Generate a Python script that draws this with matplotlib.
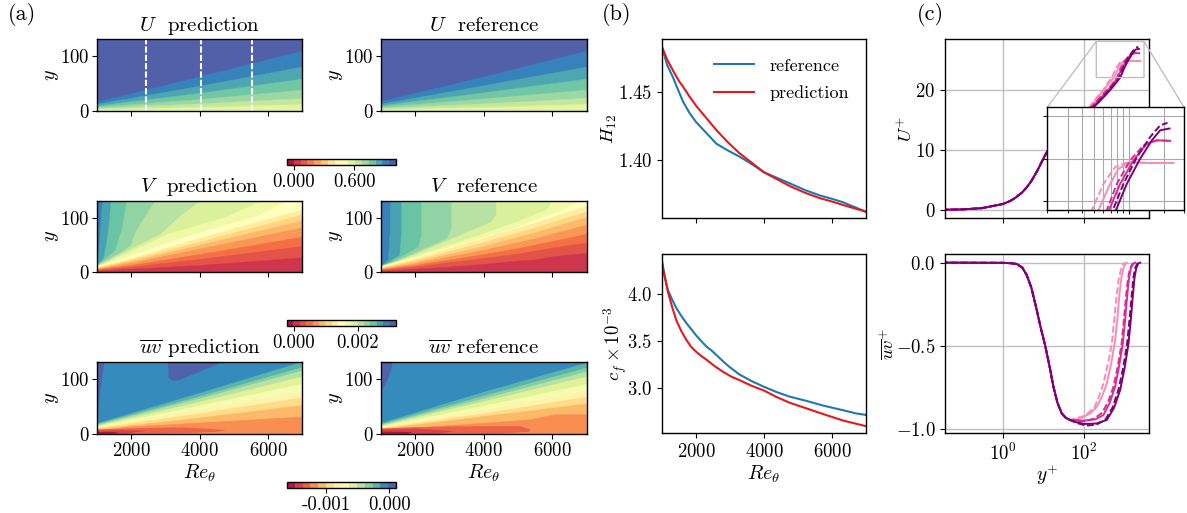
import matplotlib
matplotlib.use("Agg")
import matplotlib.pyplot as plt
from matplotlib.colors import BoundaryNorm, ListedColormap
from matplotlib.cm import ScalarMappable
from matplotlib.ticker import NullFormatter, NullLocator
import numpy as np

plt.rcParams['font.family'] = ['cmr10', 'DejaVu Serif']
plt.rcParams['mathtext.fontset'] = 'cm'
plt.rcParams['axes.formatter.use_mathtext'] = True
plt.rcParams['axes.unicode_minus'] = True
plt.rcParams['font.size'] = 13.5
plt.rcParams['axes.linewidth'] = 1.0

W, H = 1187, 513
RE_MIN, RE_MAX, Y_MAX = 1000, 7000, 131

# ---- panel (a): contour edges, (Re, y) for each level
re_abc = [1000, 4000, 7000]
u_pred_edges = [
    (14, re_abc, [16, 62, 109]), (13, re_abc, [12, 45, 80]), (12, re_abc, [9, 32, 58]),
    (11, re_abc, [6.5, 21, 38]), (10, re_abc, [4.5, 13, 22.5]), (9, re_abc, [2.5, 6.5, 11.6]),
]
u_ref_edges = [
    (14, re_abc, [17, 62, 109]), (13, re_abc, [12.5, 46, 80]), (12, re_abc, [9.5, 33, 58]),
    (11, re_abc, [6.5, 22, 38]), (10, re_abc, [4.5, 13, 23]), (9, re_abc, [2.5, 6.5, 12]),
]

re_v = [1000, 2000, 4000, 7000]
v_pred_edges = [
    (14, [1000, 1020, 1098, 1167], [13, 16, 66, 131]),
    (13, [1000, 1050, 1196, 1274, 1343, 1421], [12.5, 15, 23, 48, 78, 131]),
    (12, [1000, 1098, 1539, 1735, 1882], [12, 17, 39, 78, 131]),
    (11, [1000, 1098, 1686, 2000, 2127, 2421, 2715], [11.5, 15, 35, 49, 72, 103, 131]),
    (10, [1000, 1196, 1980, 2862, 3450, 4038], [11, 16, 42, 69, 103, 131]),
    (9, [1000, 1294, 3058, 4724, 5851], [10, 17, 69, 100, 131]),
    (8, [1000, 1392, 3744, 5704, 6586], [9, 17, 67, 103, 131]),
    (7, re_v, [8, 24, 62, 114]), (6, re_v, [7, 22, 55, 105]), (5, re_v, [6, 19, 49, 94]),
    (4, re_v, [5, 16, 42, 81]), (3, re_v, [4, 12, 32, 64]), (2, re_v, [3, 9, 23, 47]),
    (1, re_v, [1.5, 5, 12, 26]),
]
re_wavy = [1000, 2000, 3000, 4000, 5000, 6000, 7000]
v_ref_edges = [
    (14, [1000, 1039, 1216, 1274, 1274], [12, 13, 23, 78, 131]),
    (13, [1000, 1157, 1549, 1608, 1608], [11.5, 15, 31, 78, 131]),
    (12, [1000, 1304, 2088, 2186, 2186], [11, 18, 45, 66, 131]),
    (11, [1000, 1451, 2921, 3058, 3068], [10.5, 20, 61, 78, 131]),
    (10, [1000, 1647, 4195, 4361, 4371], [10, 23, 91, 103, 131]),
    (9, [1000, 1843, 3803, 5175, 5861, 6008], [9.5, 26, 66, 97, 115, 131]),
    (8, [1000, 2039, 4783, 6351, 6841], [9, 27, 78, 115, 131]),
    (7, [1000, 2000, 4000, 5500, 7000], [8, 24, 62, 90, 121]),
    (6, [1000, 2000, 4000, 5500, 7000], [7, 21, 54, 81, 110]),
    (5, [1000, 2000, 4000, 5500, 7000], [6, 18, 47, 72, 100]),
    (4, [1000, 2000, 4000, 5500, 7000], [5, 15, 40, 61, 86]),
    (3, re_wavy, [4, 12, 22, 32, 43, 56, 69]),
    (2, re_wavy, [3, 9, 17, 25, 33, 44, 53]),
    (1, [1000, 2000, 3000, 4000, 5000, 5500, 6000, 6500, 7000], [1.5, 5, 9, 14, 20, 22, 28, 31, 34]),
]

uv_pred_patches = [
    (13, [1000, 1225, 1098, 1020, 1000], [131, 131, 78, 29, 20]),
    (13, [3078, 3097, 3205, 3401, 3842, 4675], [131, 102, 97, 98, 109, 131]),
]
uv_ref_patches = [
    (13, [1000, 1353, 1255, 1108, 1000], [131, 131, 109, 87, 78]),
]
uv_pred_edges = [
    (11, re_abc, [19, 74, 131]), (10, re_abc, [17.5, 68, 121]), (9, re_abc, [16, 64, 115]),
    (8, re_abc, [14.5, 58, 104]), (7, re_abc, [13, 51, 91]), (6, re_abc, [11.5, 43, 76]),
    (5, re_abc, [10, 37, 66]), (4, re_abc, [8.5, 29, 52]),
    (3, re_v, [6, 13, 20, 31]),
]
uv_ref_edges = [
    (11, re_abc, [19.5, 76, 129]), (10, re_abc, [17.5, 69, 120]), (9, re_abc, [16, 64, 113]),
    (8, re_abc, [14.5, 59, 104]), (7, re_abc, [13, 51, 90]), (6, re_abc, [11.5, 43, 77]),
    (5, re_abc, [10, 37, 67]), (4, [1000, 4000, 5500, 7000], [8.5, 32, 43, 55]),
    (3, [1000, 4097, 5371, 6057, 7000], [7, 20, 26, 35, 35]),
]
uv_pred_wedges = [
    (2, [1000, 2421, 3548, 4773, 4528, 3744, 2764, 1000], [8, 11, 12, 7.3, 4, 2, 0, 0]),
    (1, [1000, 1700, 2470, 2000, 1800, 1000], [6.5, 7, 6, 2, 0, 0]),
    (0, [1000, 1637, 1500, 1000], [3.5, 3.6, 0, 0]),
]
uv_ref_wedges = [
    (2, [1000, 1843, 3313, 4293, 5077, 5371, 5322, 4293, 1000], [10, 12, 14, 14, 14, 8, 4, 0, 0]),
    (1, [1000, 2039, 3117, 2823, 2529, 1000], [8, 10, 5, 2, 0, 0]),
    (0, [1000, 1941, 1745, 1000], [4.5, 3.6, 0, 0]),
]
stations = [2450, 4030, 5540]

# ---- panel (b)
h12_re = [1000, 1150, 1320, 1500, 1618, 1800, 2000, 2300, 2600, 2940, 3280, 3640, 4000, 4375, 4750,
          5200, 5640, 6000, 6320, 6660, 7000]
h12_ref = [1.483, 1.470, 1.461, 1.450, 1.443, 1.435, 1.428, 1.420, 1.412, 1.407, 1.4025, 1.397, 1.391,
           1.387, 1.383, 1.378, 1.374, 1.3715, 1.369, 1.3655, 1.362]
h12_pred = [1.483, 1.474, 1.466, 1.458, 1.454, 1.447, 1.440, 1.431, 1.422, 1.413, 1.405, 1.398, 1.391,
            1.386, 1.381, 1.376, 1.372, 1.3695, 1.367, 1.3645, 1.362]

cf_re_ref = [1000, 1060, 1120, 1176, 1300, 1422, 1560, 1716, 1850, 2000, 2150, 2304, 2450, 2598, 2800,
             2990, 3284, 3640, 4000, 4363, 4755, 5245, 5735, 6324, 6716, 7000]
cf_ref = [4.345, 4.22, 4.12, 4.04, 3.94, 3.85, 3.77, 3.69, 3.63, 3.56, 3.50, 3.44, 3.40, 3.35, 3.28,
          3.22, 3.14, 3.07, 3.01, 2.955, 2.905, 2.86, 2.81, 2.76, 2.725, 2.71]
cf_re_pred = [1000, 1060, 1120, 1176, 1300, 1422, 1560, 1716, 1850, 2000, 2150, 2304, 2550, 2794, 3030,
              3284, 3640, 4000, 4375, 4755, 5245, 5735, 6324, 6660, 7000]
cf_pred = [4.345, 4.22, 4.12, 4.02, 3.86, 3.72, 3.61, 3.51, 3.44, 3.385, 3.34, 3.30, 3.23, 3.17, 3.12,
           3.08, 3.02, 2.97, 2.90, 2.84, 2.78, 2.72, 2.65, 2.62, 2.59]

# ---- panel (c)
colors_c = ['#f98cb6', '#d82b97', '#7a0177']
up_inner_y = [0.03, 0.1, 0.3, 1, 1.5, 2, 3, 4, 5, 7, 10, 12, 15, 20, 30, 50, 80, 120]
up_inner_u = [0.03, 0.1, 0.3, 1, 1.5, 2, 2.95, 3.9, 4.8, 6.5, 8.6, 9.6, 10.7, 12, 13.6, 14.8, 15.8, 16.5]
up_y = [
    [141, 200, 300, 400, 490, 610, 768, 968, 1400, 2437],
    [141, 200, 300, 450, 651, 794, 1033, 1346, 1752, 2250],
    [141, 200, 300, 450, 733, 906, 1180, 1536, 1873, 2163],
]
up_u = [
    [17.3, 18.6, 20, 21.3, 22.07, 23.54, 24.51, 24.77, 24.75, 24.75],
    [16.9, 18, 19.3, 20.6, 22, 23.54, 24.9, 25.78, 26.07, 26.04],
    [16.7, 17.6, 18.9, 20.2, 22, 23.54, 25.1, 26.27, 26.95, 27.09],
]
up_y_solid = [
    [141, 200, 300, 400, 552, 695, 820, 1033, 1500, 2437],
    [141, 200, 300, 450, 680, 848, 1104, 1438, 1752, 2282],
    [141, 200, 300, 450, 780, 968, 1260, 1586, 1873, 2250],
]
up_u_solid = [
    [17, 18.4, 19.8, 21, 22, 23.54, 24.41, 24.8, 24.75, 24.75],
    [16.8, 17.8, 19.1, 20.4, 22, 23.54, 24.9, 25.88, 26.07, 26.04],
    [16.6, 17.5, 18.7, 20, 22, 23.54, 25, 26.07, 26.66, 26.76],
]
uv_inner_y = [0.03, 1, 1.5, 2.2, 3, 3.84, 5, 6.8, 8.5, 10.9, 14, 17.5, 22, 28, 35, 45]
uv_inner_v = [0, -0.001, -0.003, -0.008, -0.03, -0.074, -0.15, -0.284, -0.39, -0.494, -0.62, -0.744,
              -0.84, -0.904, -0.93, -0.944]
uv_y_solid = [
    [70, 100, 150, 206, 280, 363, 470, 582, 670, 745, 830, 935, 1020, 1122],
    [60, 100, 190, 300, 430, 582, 730, 902, 1020, 1130, 1270, 1419, 1600, 1820],
    [60, 100, 200, 363, 550, 775, 1000, 1245, 1420, 1585, 1750, 1923, 2150, 2415],
]
uv_v_solid = [
    [-0.94, -0.924, -0.90, -0.864, -0.80, -0.724, -0.60, -0.464, -0.32, -0.184, -0.09, -0.034, -0.01, 0],
    [-0.945, -0.948, -0.94, -0.914, -0.84, -0.744, -0.62, -0.484, -0.35, -0.224, -0.10, -0.034, -0.008, 0],
    [-0.955, -0.968, -0.965, -0.944, -0.87, -0.764, -0.63, -0.484, -0.34, -0.204, -0.09, -0.034, -0.006, 0],
]
uv_y_dash = [
    [60, 100, 135, 178, 235, 300, 385, 482, 550, 617, 700, 803, 900, 1000],
    [60, 100, 180, 280, 400, 530, 680, 840, 950, 1060, 1200, 1350, 1550, 1780],
    [60, 110, 200, 330, 500, 700, 920, 1150, 1320, 1480, 1640, 1800, 2050, 2300],
]
uv_v_dash = [
    [-0.935, -0.92, -0.895, -0.87, -0.80, -0.724, -0.61, -0.484, -0.35, -0.224, -0.11, -0.044, -0.012, 0],
    [-0.95, -0.952, -0.935, -0.90, -0.83, -0.744, -0.62, -0.484, -0.35, -0.224, -0.10, -0.034, -0.008, 0],
    [-0.958, -0.978, -0.972, -0.944, -0.87, -0.764, -0.63, -0.484, -0.34, -0.204, -0.09, -0.034, -0.006, 0],
]


def px_axes(fig, x0, x1, y0, y1):
    # pixel box (top-left origin) to figure axes
    return fig.add_axes([x0 / W, 1 - y1 / H, (x1 - x0) / W, (y1 - y0) / H])


def band_colors(n):
    cmap = plt.get_cmap('Spectral')
    return [cmap((i + 0.5) / n) for i in range(n)]


def draw_field(ax, n, base, edges, patches=(), wedges=()):
    cols = band_colors(n)
    ax.set_facecolor(cols[base])
    for idx, re, y in patches:
        ax.fill(re, y, color=cols[idx], lw=0)
    for idx, re, y in edges:
        xs = list(re) + [RE_MAX, RE_MAX, RE_MIN]
        ys = list(y) + [y[-1], 0, 0]
        ax.fill(xs, ys, color=cols[idx], lw=0.3)
    for idx, re, y in wedges:
        ax.fill(re, y, color=cols[idx], lw=0)
    ax.set_xlim(RE_MIN, RE_MAX)
    ax.set_ylim(0, Y_MAX)
    ax.set_xticks([2000, 4000, 6000])
    ax.set_yticks([0, 100])
    ax.tick_params(labelsize=13.5, pad=2)


def add_cbar(fig, y0, n, vmin, vmax, ticks, labels):
    cax = px_axes(fig, 287, 396, y0, y0 + 6)
    bounds = np.linspace(vmin, vmax, n + 1)
    sm = ScalarMappable(norm=BoundaryNorm(bounds, n), cmap=ListedColormap(band_colors(n)))
    cb = fig.colorbar(sm, cax=cax, orientation='horizontal', spacing='proportional')
    cb.set_ticks(ticks)
    cb.set_ticklabels(labels)
    cb.ax.minorticks_off()
    cb.ax.tick_params(labelsize=13.5, pad=2)
    cb.outline.set_linewidth(1.0)


fig = plt.figure(figsize=(W / 100, H / 100), dpi=100)

cols_x = [(96.8, 302.3), (381, 586.5)]
rows_y = [(39, 111), (200.7, 272), (362, 434)]
titles = [
    (r'$U$  prediction', r'$U$  reference'),
    (r'$V$  prediction', r'$V$  reference'),
    (r'$\overline{uv}$ prediction', r'$\overline{uv}$ reference'),
]
fields = [
    [(16, 15, u_pred_edges, (), ()), (16, 15, u_ref_edges, (), ())],
    [(17, 15, v_pred_edges, (), ()), (17, 15, v_ref_edges, (), ())],
    [(14, 12, uv_pred_edges, uv_pred_patches, uv_pred_wedges),
     (14, 12, uv_ref_edges, uv_ref_patches, uv_ref_wedges)],
]
for r, (y0, y1) in enumerate(rows_y):
    for c, (x0, x1) in enumerate(cols_x):
        ax = px_axes(fig, x0, x1, y0, y1)
        n, base, edges, patches, wedges = fields[r][c]
        draw_field(ax, n, base, edges, patches, wedges)
        ax.set_title(titles[r][c], fontsize=15, pad=6)
        ax.set_ylabel(r'$y$', fontsize=14.5)
        ax.yaxis.set_label_coords(-0.175, 0.5)
        if r == 2:
            ax.set_xlabel(r'$Re_\theta$', fontsize=14.5, labelpad=2)
        else:
            ax.tick_params(labelbottom=False)
        if r == 0 and c == 0:
            for s in stations:
                ax.axvline(s, color='white', ls='--', lw=1.5, dashes=(3, 1))

add_cbar(fig, 159, 16, -0.07, 1.02, [0.0, 0.6], ['0.000', '0.600'])
add_cbar(fig, 320, 17, -0.00022, 0.00319, [0.0, 0.002], ['0.000', '0.002'])
add_cbar(fig, 482, 14, -0.00162, 0.00011, [-0.001, 0.0], ['-0.001', '0.000'])

# panel (b)
ax_h = px_axes(fig, 662, 866, 39, 218)
ax_h.plot(h12_re, h12_ref, color='#1f77b4', lw=1.5, label='reference')
ax_h.plot(h12_re, h12_pred, color='#e31a1c', lw=1.5, label='prediction')
ax_h.set_xlim(RE_MIN, RE_MAX)
ax_h.set_ylim(1.3574, 1.489)
ax_h.set_xticks([2000, 4000, 6000])
ax_h.set_yticks([1.40, 1.45])
ax_h.set_yticklabels(['$1.40$', '$1.45$'])
ax_h.tick_params(labelbottom=False)
ax_h.set_ylabel(r'$H_{12}$', fontsize=13.5)
ax_h.yaxis.set_label_coords(-0.21, 0.5)
ax_h.legend(loc='upper right', frameon=False, fontsize=13, handlelength=2.2,
            handletextpad=0.85, labelspacing=0.65, bbox_to_anchor=(0.995, 0.985))

ax_cf = px_axes(fig, 662, 866, 254, 433)
ax_cf.plot(cf_re_ref, cf_ref, color='#1f77b4', lw=1.5)
ax_cf.plot(cf_re_pred, cf_pred, color='#e31a1c', lw=1.5)
ax_cf.set_xlim(RE_MIN, RE_MAX)
ax_cf.set_ylim(2.517, 4.427)
ax_cf.set_xticks([2000, 4000, 6000])
ax_cf.set_yticks([3.0, 3.5, 4.0])
ax_cf.set_yticklabels(['$3.0$', '$3.5$', '$4.0$'])
ax_cf.set_xlabel(r'$Re_\theta$', fontsize=14.5, labelpad=2)
ax_cf.set_ylabel(r'$c_f \times 10^{-3}$', fontsize=13.5)
ax_cf.yaxis.set_label_coords(-0.16, 0.5)

# panel (c)
XL = (10 ** -1.43, 10 ** 3.6)
ax_u = px_axes(fig, 945, 1149, 39, 218)
ax_uv = px_axes(fig, 945, 1149, 254, 433)
axins = ax_u.inset_axes([(1047.3 - 945) / 204, (218 - 210) / 179,
                         (1184 - 1047.3) / 204, (210 - 107.3) / 179])


def plot_u(a):
    for i, col in enumerate(colors_c):
        a.plot(up_inner_y + up_y_solid[i], up_inner_u + up_u_solid[i], color=col, lw=1.4)
        a.plot(up_inner_y + up_y[i], up_inner_u + up_u[i], color=col, lw=1.4, ls='--', dashes=(3.5, 1.5))


plot_u(ax_u)
plot_u(axins)
ax_u.set_xscale('log')
ax_u.set_xlim(*XL)
ax_u.set_ylim(-1.33, 28.4)
ax_u.set_xticks([1, 100])
ax_u.xaxis.set_minor_locator(NullLocator())
ax_u.set_yticks([0, 10, 20])
ax_u.tick_params(labelbottom=False)
ax_u.grid(True, color='silver', lw=1.0)
ax_u.set_axisbelow(True)
ax_u.set_ylabel(r'$U^{+}$', fontsize=13.5)
ax_u.yaxis.set_label_coords(-0.14, 0.5)

axins.set_xscale('log')
axins.set_xlim(200, 3000)
axins.set_ylim(22, 28)
axins.set_xticks([1000])
axins.set_yticks([22.5, 25, 27.5])
axins.tick_params(labelbottom=False, labelleft=False, length=3)
axins.xaxis.set_minor_formatter(NullFormatter())
axins.tick_params(which='minor', length=2)
axins.grid(True, which='both', color='#aaaaaa', lw=0.8)
axins.set_axisbelow(True)
axins.set_zorder(5)

ind = ax_u.indicate_inset_zoom(axins, edgecolor='silver', alpha=1.0, lw=1.0)
conn = ind.connectors
for k, con in enumerate(conn):
    con.set_visible(k in (1, 3))
    con.set_color('silver')

for i, col in enumerate(colors_c):
    ax_uv.plot(uv_inner_y + uv_y_solid[i], uv_inner_v + uv_v_solid[i], color=col, lw=1.4)
    ax_uv.plot(uv_inner_y + uv_y_dash[i], uv_inner_v + uv_v_dash[i], color=col, lw=1.4, ls='--', dashes=(3.5, 1.5))
ax_uv.set_xscale('log')
ax_uv.set_xlim(*XL)
ax_uv.set_ylim(-1.022, 0.052)
ax_uv.set_xticks([1, 100])
ax_uv.xaxis.set_minor_locator(NullLocator())
ax_uv.set_yticks([-1.0, -0.5, 0.0])
ax_uv.set_yticklabels([r'$-1.0$', r'$-0.5$', r'$0.0$'])
ax_uv.grid(True, color='silver', lw=1.0)
ax_uv.set_axisbelow(True)
ax_uv.set_xlabel(r'$y^{+}$', fontsize=14, labelpad=-1)
ax_uv.set_ylabel(r'$\overline{uv}^{+}$', fontsize=13.5)
ax_uv.yaxis.set_label_coords(-0.23, 0.5)

fig.text(8 / W, 1 - 14 / H, '(a)', fontsize=16, va='center')
fig.text(602 / W, 1 - 14 / H, '(b)', fontsize=16, va='center')
fig.text(917 / W, 1 - 14 / H, '(c)', fontsize=16, va='center')

fig.savefig('out.png', dpi=100)
